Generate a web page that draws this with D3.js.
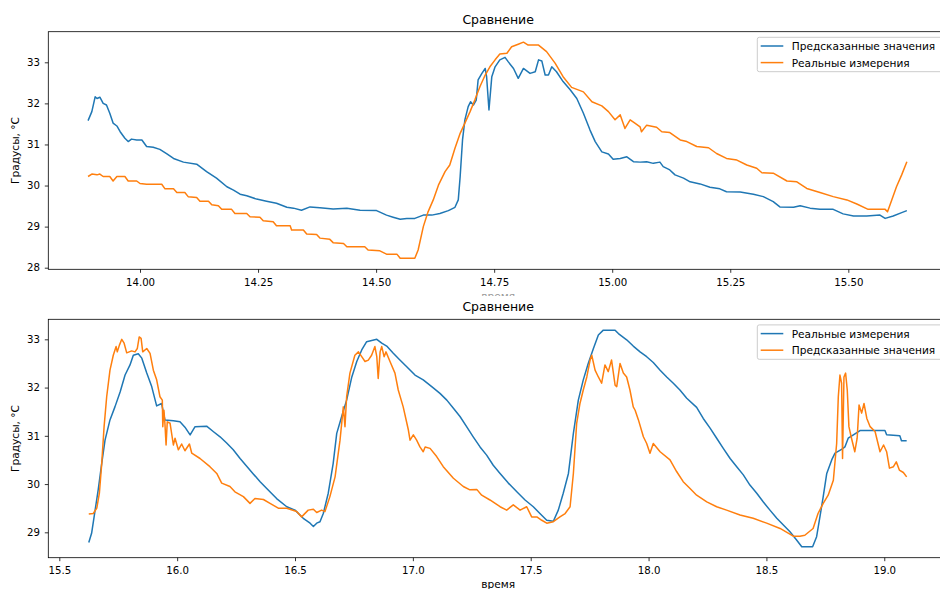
<!DOCTYPE html>
<html>
<head>
<meta charset="utf-8">
<script src="https://cdn.jsdelivr.net/npm/d3@7/dist/d3.min.js"></script>
<style>
  body { margin: 0; background: #fff; }
  svg { display: block; font-family: "DejaVu Sans", sans-serif; }
</style>
</head>
<body>
<div id="wrap"></div>
<script>
// ---- тексты ----
const TITLE = "Сравнение";
const X_LABEL = "время";
const Y_LABEL = "Градусы, °C";
const LABEL_PRED = "Предсказанные значения";
const LABEL_REAL = "Реальные измерения";

// ---- деления осей ----
const topXTicks = [14.00, 14.25, 14.50, 14.75, 15.00, 15.25, 15.50];
const topYTicks = [28, 29, 30, 31, 32, 33];
const botXTicks = [15.5, 16.0, 16.5, 17.0, 17.5, 18.0, 18.5, 19.0];
const botYTicks = [29, 30, 31, 32, 33];

// ---- верхний график: предсказанные значения ----
const topPredX = [13.890,13.898,13.905,13.909,13.915,13.922,13.929,13.936,13.943,13.951,13.958,13.968,13.975,13.982,13.993,14.004,14.014,14.028,14.042,14.057,14.071,14.092,14.120,14.141,14.162,14.184,14.198,14.212,14.226,14.247,14.268,14.289,14.311,14.325,14.342,14.360,14.381,14.409,14.438,14.466,14.501,14.522,14.536,14.551,14.565,14.582,14.600,14.618,14.635,14.653,14.667,14.674,14.678,14.683,14.688,14.695,14.700,14.706,14.712,14.716,14.724,14.731,14.734,14.739,14.745,14.752,14.762,14.773,14.780,14.791,14.801,14.812,14.826,14.837,14.844,14.851,14.858,14.865,14.872,14.882,14.896,14.911,14.925,14.939,14.953,14.964,14.978,14.992,15.002,15.017,15.031,15.045,15.059,15.073,15.087,15.101,15.108,15.122,15.133,15.151,15.165,15.186,15.207,15.228,15.242,15.271,15.299,15.320,15.341,15.355,15.384,15.398,15.419,15.440,15.468,15.489,15.511,15.539,15.567,15.578,15.595,15.613,15.624];
const topPredY = [31.58,31.80,32.16,32.12,32.15,32.00,31.96,31.76,31.52,31.45,31.31,31.15,31.07,31.13,31.11,31.11,30.95,30.93,30.88,30.77,30.66,30.57,30.52,30.34,30.18,29.97,29.89,29.79,29.75,29.67,29.62,29.57,29.47,29.45,29.40,29.48,29.46,29.43,29.45,29.40,29.39,29.28,29.23,29.18,29.20,29.20,29.28,29.28,29.32,29.39,29.47,29.65,30.22,31.11,31.60,31.92,32.04,31.96,32.08,32.57,32.73,32.85,32.65,31.84,32.65,32.89,33.06,33.12,33.01,32.85,32.61,32.85,32.73,32.77,33.06,33.03,32.69,32.69,32.89,32.77,32.53,32.33,32.12,31.76,31.35,31.07,30.82,30.77,30.64,30.66,30.70,30.58,30.57,30.58,30.54,30.57,30.46,30.38,30.26,30.18,30.09,30.04,29.96,29.92,29.85,29.84,29.79,29.73,29.61,29.48,29.47,29.51,29.45,29.42,29.42,29.31,29.26,29.26,29.28,29.20,29.26,29.34,29.39];

// ---- верхний график: реальные измерения ----
const topRealX = [13.890,13.898,13.909,13.915,13.922,13.936,13.943,13.951,13.968,13.975,13.993,14.000,14.014,14.046,14.053,14.071,14.078,14.095,14.102,14.120,14.127,14.145,14.152,14.166,14.173,14.194,14.201,14.226,14.233,14.254,14.261,14.282,14.289,14.318,14.321,14.346,14.353,14.374,14.381,14.402,14.409,14.431,14.438,14.476,14.483,14.508,14.522,14.544,14.551,14.582,14.589,14.600,14.610,14.621,14.632,14.646,14.656,14.667,14.678,14.688,14.699,14.709,14.720,14.731,14.741,14.752,14.762,14.777,14.787,14.801,14.812,14.822,14.844,14.861,14.879,14.896,14.914,14.939,14.957,14.978,14.992,15.006,15.017,15.027,15.038,15.048,15.059,15.062,15.073,15.094,15.105,15.122,15.144,15.158,15.179,15.204,15.221,15.242,15.264,15.285,15.306,15.317,15.341,15.370,15.391,15.412,15.440,15.468,15.497,15.518,15.542,15.578,15.583,15.592,15.602,15.613,15.624];
const topRealY = [30.22,30.28,30.26,30.28,30.22,30.22,30.11,30.22,30.22,30.11,30.11,30.05,30.03,30.03,29.92,29.92,29.83,29.83,29.73,29.71,29.62,29.62,29.53,29.51,29.42,29.42,29.32,29.32,29.24,29.23,29.14,29.12,29.02,29.02,28.92,28.92,28.82,28.81,28.72,28.69,28.61,28.59,28.51,28.51,28.43,28.41,28.33,28.33,28.23,28.23,28.43,29.00,29.36,29.65,30.01,30.34,30.50,30.91,31.27,31.52,31.80,32.08,32.41,32.69,32.89,33.06,33.20,33.22,33.38,33.44,33.49,33.42,33.42,33.26,32.98,32.65,32.39,32.28,32.04,31.94,31.80,31.60,31.72,31.39,31.60,31.52,31.43,31.31,31.47,31.42,31.31,31.29,31.11,31.07,30.95,30.92,30.78,30.66,30.62,30.50,30.42,30.31,30.30,30.11,30.09,29.93,29.83,29.73,29.65,29.55,29.42,29.42,29.36,29.65,29.97,30.26,30.58];

// ---- нижний график: реальные измерения ----
const botRealX = [15.625,15.637,15.651,15.665,15.680,15.694,15.715,15.736,15.758,15.779,15.800,15.814,15.835,15.850,15.871,15.892,15.913,15.934,15.948,15.984,16.012,16.033,16.055,16.076,16.125,16.153,16.182,16.210,16.238,16.267,16.295,16.323,16.352,16.380,16.422,16.465,16.500,16.535,16.564,16.578,16.592,16.606,16.620,16.641,16.662,16.677,16.698,16.719,16.741,16.762,16.783,16.804,16.847,16.868,16.889,16.917,16.945,16.974,17.009,17.044,17.080,17.115,17.144,17.172,17.200,17.228,17.256,17.285,17.313,17.341,17.370,17.405,17.441,17.476,17.511,17.539,17.568,17.596,17.617,17.638,17.660,17.681,17.702,17.723,17.744,17.766,17.787,17.808,17.858,17.872,17.907,17.935,17.964,17.992,18.020,18.049,18.077,18.105,18.133,18.162,18.204,18.232,18.261,18.289,18.317,18.346,18.374,18.402,18.430,18.459,18.487,18.515,18.544,18.572,18.600,18.628,18.650,18.696,18.713,18.727,18.741,18.756,18.777,18.791,18.819,18.833,18.847,18.869,18.897,19.003,19.010,19.066,19.073,19.095];
const botRealY = [28.79,28.98,29.43,29.88,30.43,30.91,31.33,31.60,31.91,32.26,32.47,32.67,32.70,32.61,32.30,32.02,31.62,31.67,31.33,31.31,31.29,31.18,31.02,31.19,31.20,31.09,30.98,30.85,30.71,30.53,30.37,30.21,30.05,29.91,29.70,29.53,29.46,29.29,29.19,29.12,29.19,29.22,29.39,29.81,30.43,31.05,31.40,31.74,32.22,32.54,32.78,32.95,33.00,32.92,32.86,32.71,32.57,32.43,32.26,32.16,32.02,31.88,31.74,31.57,31.40,31.19,30.98,30.77,30.60,30.39,30.22,30.02,29.84,29.67,29.53,29.39,29.25,29.23,29.46,29.81,30.22,31.05,31.74,32.16,32.50,32.81,33.09,33.19,33.19,33.12,32.99,32.86,32.74,32.64,32.52,32.36,32.22,32.09,31.95,31.78,31.59,31.36,31.16,30.95,30.74,30.53,30.36,30.19,29.98,29.81,29.63,29.46,29.29,29.15,29.01,28.84,28.70,28.70,28.91,29.32,29.74,30.22,30.50,30.64,30.72,30.77,30.95,31.02,31.11,31.11,31.02,31.00,30.90,30.90];

// ---- нижний график: предсказанные значения ----
const botPredX = [15.625,15.644,15.659,15.670,15.680,15.690,15.701,15.715,15.729,15.741,15.746,15.755,15.765,15.775,15.786,15.807,15.821,15.831,15.839,15.847,15.854,15.871,15.885,15.899,15.913,15.927,15.937,15.939,15.944,15.948,15.953,15.958,15.970,15.984,15.991,16.005,16.019,16.033,16.052,16.062,16.097,16.139,16.168,16.189,16.224,16.245,16.281,16.309,16.330,16.366,16.394,16.429,16.465,16.507,16.528,16.556,16.578,16.592,16.613,16.627,16.648,16.670,16.691,16.705,16.712,16.719,16.733,16.754,16.769,16.783,16.797,16.811,16.825,16.839,16.847,16.853,16.861,16.868,16.878,16.886,16.903,16.924,16.938,16.959,16.981,16.988,17.002,17.016,17.030,17.044,17.052,17.073,17.101,17.129,17.172,17.214,17.242,17.271,17.292,17.327,17.370,17.398,17.426,17.455,17.483,17.504,17.526,17.547,17.568,17.596,17.624,17.646,17.667,17.681,17.695,17.709,17.723,17.738,17.752,17.759,17.773,17.787,17.801,17.815,17.829,17.843,17.858,17.865,17.879,17.893,17.907,17.921,17.935,17.943,17.957,17.978,17.992,18.006,18.020,18.049,18.091,18.119,18.147,18.176,18.204,18.247,18.289,18.331,18.388,18.444,18.501,18.558,18.614,18.642,18.663,18.698,18.719,18.741,18.762,18.784,18.798,18.805,18.812,18.819,18.823,18.829,18.836,18.843,18.850,18.861,18.875,18.885,18.893,18.904,18.914,18.926,18.940,18.961,18.982,18.997,19.010,19.022,19.039,19.051,19.064,19.081,19.095];
const botPredY = [29.38,29.39,29.50,29.81,30.43,31.19,31.81,32.36,32.67,32.85,32.74,32.88,33.00,32.92,32.72,32.76,32.74,32.81,33.05,33.02,32.74,32.81,32.71,32.36,32.16,31.81,31.74,31.19,31.53,31.26,30.81,31.29,31.26,30.81,30.95,30.71,30.83,30.69,30.83,30.64,30.53,30.36,30.22,30.02,29.95,29.84,29.74,29.60,29.70,29.68,29.60,29.50,29.50,29.43,29.32,29.46,29.48,29.41,29.46,29.43,29.74,30.15,30.91,31.60,31.19,31.81,32.30,32.67,32.74,32.64,32.54,32.57,32.67,32.85,32.64,32.19,32.74,32.85,32.64,32.74,32.54,32.30,31.95,31.60,31.12,30.91,31.02,30.91,30.77,30.67,30.77,30.74,30.57,30.36,30.12,29.95,29.88,29.89,29.77,29.67,29.53,29.46,29.57,29.46,29.53,29.32,29.32,29.25,29.19,29.22,29.32,29.39,29.53,30.22,31.26,31.67,31.95,32.22,32.57,32.67,32.36,32.22,32.09,32.47,32.33,32.57,32.05,32.02,32.50,32.30,32.22,31.95,31.60,31.53,31.33,30.98,30.84,30.64,30.84,30.67,30.50,30.26,30.05,29.91,29.77,29.63,29.53,29.46,29.36,29.29,29.19,29.08,28.92,28.92,28.94,29.08,29.39,29.60,29.77,30.08,30.84,31.81,32.26,32.09,30.53,32.22,32.30,31.95,31.19,30.95,30.67,30.95,31.64,31.47,31.67,31.36,31.19,31.09,30.67,30.81,30.67,30.33,30.36,30.46,30.29,30.24,30.15];

chart();
function chart(){
  const WIDTH = 940;   // ширина окна
  const HEIGHT = 589;  // высота окна
  const BLUE = '#1f77b4';
  const ORANGE = '#ff7f0e';
  const LEFT = 48.3;   // левая граница осей
  const RIGHT = 948;   // правая граница (фигура обрезана справа)
  const FS = 10.6;     // размер шрифта подписей и легенды

  const svg = d3.select('#wrap')
    .append('svg')
    .attr('width', WIDTH)
    .attr('height', HEIGHT)
    .style('background', '#FFFFFF');

  // верхний график
  drawPanel({
    top: 31.7, bottom: 269.3,
    xDomain: [13.8058, 15.7111], yDomain: [27.961, 33.745],
    xTicks: topXTicks, xFmt: d3.format('.2f'), yTicks: topYTicks,
    series: [
      {xs: topPredX, ys: topPredY, color: BLUE, label: LABEL_PRED},
      {xs: topRealX, ys: topRealY, color: ORANGE, label: LABEL_REAL}
    ],
    xlabelBase: 299.5, xlabelClip: 296
  });

  // нижний график
  drawPanel({
    top: 319.3, bottom: 557.7,
    xDomain: [15.4533, 19.2704], yDomain: [28.474, 33.415],
    xTicks: botXTicks, xFmt: d3.format('.1f'), yTicks: botYTicks,
    series: [
      {xs: botRealX, ys: botRealY, color: BLUE, label: LABEL_REAL},
      {xs: botPredX, ys: botPredY, color: ORANGE, label: LABEL_PRED}
    ],
    xlabelBase: 588.2, xlabelClip: null
  });

  function drawPanel(p){
    const g = svg.append('g');
    const xScale = d3.scaleLinear().domain(p.xDomain).range([LEFT, RIGHT]);
    const yScale = d3.scaleLinear().domain(p.yDomain).range([p.bottom, p.top]);

    // линии
    p.series.forEach(s=>{
      const line = d3.line()
        .x((d, i)=>xScale(s.xs[i]))
        .y(d=>yScale(d));
      g.append('path')
        .attr('d', line(s.ys))
        .attr('fill', 'none')
        .attr('stroke', s.color)
        .attr('stroke-width', 1.5)
        .attr('stroke-linejoin', 'round');
    });

    // ось X
    const xAxis = g.append('g')
      .attr('transform', 'translate(0,' + p.bottom + ')')
      .call(d3.axisBottom(xScale).tickValues(p.xTicks).tickFormat(p.xFmt)
        .tickSizeInner(3.5).tickSizeOuter(0).tickPadding(5.5));
    // ось Y
    const yAxis = g.append('g')
      .attr('transform', 'translate(' + LEFT + ',0)')
      .call(d3.axisLeft(yScale).tickValues(p.yTicks).tickFormat(d3.format('d'))
        .tickSizeInner(3.5).tickSizeOuter(0).tickPadding(4.8));
    [xAxis, yAxis].forEach(a=>{
      a.select('.domain').remove();
      a.attr('font-family', 'DejaVu Sans').attr('font-size', 10.2);
      a.selectAll('line').attr('stroke', '#000').attr('stroke-width', 0.8);
      a.selectAll('text').attr('fill', '#000');
    });

    // рамка осей
    g.append('rect')
      .attr('x', LEFT).attr('y', p.top)
      .attr('width', RIGHT - LEFT).attr('height', p.bottom - p.top)
      .attr('fill', 'none').attr('stroke', '#000').attr('stroke-width', 0.8);

    // заголовок
    g.append('text')
      .attr('x', (LEFT + RIGHT) / 2).attr('y', p.top - 8.2)
      .attr('text-anchor', 'middle').attr('font-size', 12.5)
      .text(TITLE);

    // подпись Y
    g.append('text')
      .attr('transform', 'translate(19,' + (p.top + p.bottom) / 2 + ') rotate(-90)')
      .attr('text-anchor', 'middle').attr('font-size', FS)
      .text(Y_LABEL);

    // подпись X (у верхнего графика почти закрыта заголовком нижнего)
    const xl = g.append('text')
      .attr('x', (LEFT + RIGHT) / 2).attr('y', p.xlabelBase)
      .attr('text-anchor', 'middle').attr('font-size', FS)
      .text(X_LABEL);
    if (p.xlabelClip !== null) {
      const id = 'clipx' + Math.round(p.top);
      svg.append('clipPath').attr('id', id)
        .append('rect').attr('x', 0).attr('y', 0).attr('width', WIDTH).attr('height', p.xlabelClip);
      xl.attr('clip-path', 'url(#' + id + ')').attr('fill', '#999');
    }

    // легенда
    const lg = g.append('g').attr('transform', 'translate(757.3,' + (p.top + 5.6) + ')');
    lg.append('rect')
      .attr('x', 0).attr('y', 0).attr('width', 186).attr('height', 34.4)
      .attr('rx', 2).attr('ry', 2)
      .attr('fill', 'rgba(255,255,255,0.8)').attr('stroke', '#cccccc').attr('stroke-width', 1);
    p.series.forEach((s, i)=>{
      const yy = 8.7 + i * 16.6;
      lg.append('line')
        .attr('x1', 3.4).attr('x2', 26).attr('y1', yy).attr('y2', yy)
        .attr('stroke', s.color).attr('stroke-width', 1.5);
      lg.append('text')
        .attr('x', 34.4).attr('y', yy + 4)
        .attr('font-size', FS)
        .text(s.label);
    });
  }
}
</script>
</body>
</html>
